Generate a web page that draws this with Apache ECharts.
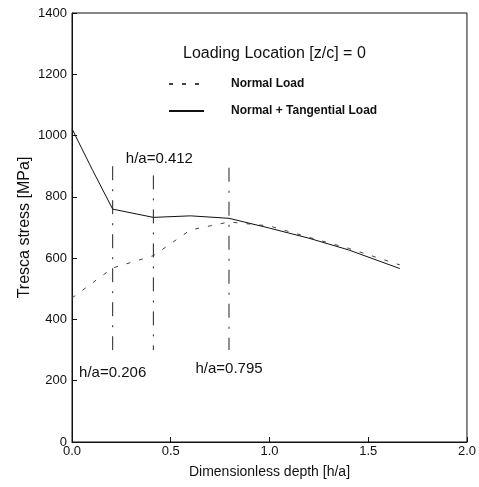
<!DOCTYPE html>
<html>
<head>
<meta charset="utf-8">
<style>
  html, body { margin: 0; padding: 0; background: #fff; }
  #chart { width: 479px; height: 487px; }
</style>
<script src="https://cdn.jsdelivr.net/npm/echarts@6/dist/echarts.min.js"></script>
</head>
<body>
<div id="chart"></div>
<script>
// depth h/a and Tresca stress (MPa)
const tangDepth = [0, 0.105, 0.206, 0.412, 0.6, 0.795, 1.0, 1.2, 1.4, 1.66]
const tangStress = [1022, 886, 760, 733, 738, 730, 698, 665, 627, 566]

const normalDepth = [0, 0.206, 0.412, 0.6, 0.795, 1.0, 1.2, 1.4, 1.66]
const normalStress = [470, 568, 608, 692, 718, 705, 668, 632, 578]

// vertical markers
const markerDepth = [0.206, 0.412, 0.795]
const markerTop = [900, 870, 895]
const markerBottom = [300, 300, 300]
const markerLabels = ['h/a=0.206', 'h/a=0.412', 'h/a=0.795']

const xTicks = [0, 0.5, 1.0, 1.5, 2.0]
const yTicks = [0, 200, 400, 600, 800, 1000, 1200, 1400]

const font = "'Liberation Sans', Arial, sans-serif"
const zip = (xs, ys) => xs.map((x, i) => [x, ys[i]])

const markerSeries = markerDepth.map((d, i) => {
  const labelAtTop = i === 1
  const lbl = {
    show: true,
    formatter: markerLabels[i],
    color: '#111',
    fontFamily: font,
    fontSize: 15
  }
  return {
    type: 'line',
    symbol: 'circle',
    symbolSize: 0,
    showSymbol: true,
    silent: true,
    lineStyle: { color: '#222', width: 1, type: [14, 9, 2, 9] },
    itemStyle: { color: 'transparent' },
    label: { show: false },
    data: [
      labelAtTop
        ? { value: [d, markerTop[i]], label: { ...lbl, position: 'top', distance: 9, offset: [6, 0] } }
        : [d, markerTop[i]],
      labelAtTop
        ? [d, markerBottom[i]]
        : { value: [d, markerBottom[i]], label: { ...lbl, position: 'bottom', distance: i === 0 ? 15 : 11 } }
    ]
  }
})

const chart = echarts.init(document.getElementById('chart'))
chart.setOption({
  animation: false,
  backgroundColor: '#fff',
  title: {
    text: 'Loading Location [z/c] = 0',
    left: 183,
    top: 46,
    padding: 0,
    textStyle: { fontFamily: font, fontSize: 16, fontWeight: 'normal', color: '#111' }
  },
  legend: {
    orient: 'vertical',
    left: 168,
    top: 78,
    padding: 0,
    itemWidth: 35,
    itemHeight: 14,
    itemGap: 15,
    itemStyle: { opacity: 0 },
    data: ['Normal Load', 'Normal + Tangential Load'],
    textStyle: { fontFamily: font, fontSize: 12, fontWeight: 'bold', color: '#111', padding: [0, 0, 0, 22] }
  },
  grid: {
    left: 72,
    right: 8,
    top: 13,
    bottom: 45,
    show: true,
    borderColor: '#111',
    borderWidth: 1,
    backgroundColor: 'transparent'
  },
  xAxis: {
    type: 'value',
    min: xTicks[0],
    max: xTicks[xTicks.length - 1],
    interval: 0.5,
    name: 'Dimensionless depth [h/a]',
    nameLocation: 'middle',
    nameGap: 23,
    nameTextStyle: { fontFamily: font, fontSize: 14, color: '#111' },
    axisLine: { lineStyle: { color: '#111', width: 1 } },
    axisTick: { inside: true, length: 5, lineStyle: { color: '#111' } },
    splitLine: { show: false },
    axisLabel: {
      margin: 3,
      fontFamily: font,
      fontSize: 13,
      color: '#111',
      formatter: v => v.toFixed(1)
    }
  },
  yAxis: {
    type: 'value',
    min: yTicks[0],
    max: yTicks[yTicks.length - 1],
    interval: 200,
    name: 'Tresca stress [MPa]',
    nameLocation: 'middle',
    nameGap: 39,
    nameMoveOverlap: false,
    nameTextStyle: { fontFamily: font, fontSize: 16, color: '#111' },
    axisLine: { show: true, lineStyle: { color: '#111', width: 1 } },
    axisTick: { show: true, inside: true, length: 5, lineStyle: { color: '#111' } },
    splitLine: { show: false },
    axisLabel: { margin: 5, fontFamily: font, fontSize: 13, color: '#111', formatter: v => String(v) }
  },
  series: [
    {
      name: 'Normal Load',
      type: 'line',
      symbol: 'none',
      silent: true,
      lineStyle: { color: '#444', width: 1, type: [4, 9] },
      itemStyle: { color: '#444' },
      data: zip(normalDepth, normalStress)
    },
    {
      name: 'Normal + Tangential Load',
      type: 'line',
      symbol: 'none',
      silent: true,
      lineStyle: { color: '#111', width: 1 },
      itemStyle: { color: '#111' },
      data: zip(tangDepth, tangStress)
    },
    ...markerSeries
  ]
})
</script>
</body>
</html>
